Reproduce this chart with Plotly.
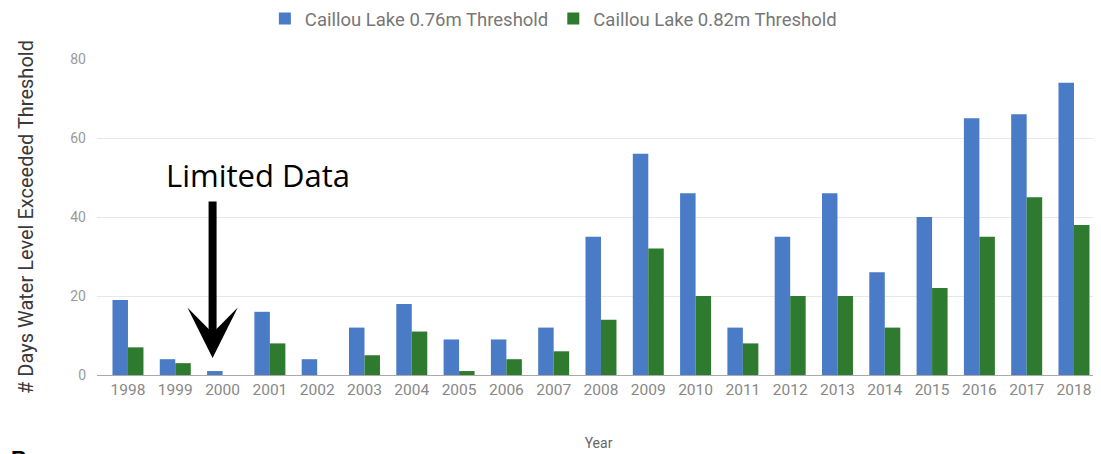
import plotly.graph_objects as go

years = [str(y) for y in range(1998, 2019)]
thr_076 = [19, 4, 1, 16, 4, 12, 18, 9, 9, 12, 35, 56, 46, 12, 35, 46, 26, 40, 65, 66, 74]
thr_082 = [7, 3, 0, 8, 0, 5, 11, 1, 4, 6, 14, 32, 20, 8, 20, 20, 12, 22, 35, 45, 38]
y_ticks = [0, 20, 40, 60, 80]

BLUE = "#4a7bc6"
GREEN = "#2e7a2e"

fig = go.Figure()
fig.add_trace(go.Bar(x=years, y=thr_076, name="Caillou Lake 0.76m Threshold",
                     marker=dict(color=BLUE, line=dict(width=0))))
fig.add_trace(go.Bar(x=years, y=thr_082, name="Caillou Lake 0.82m Threshold",
                     marker=dict(color=GREEN, line=dict(width=0))))

idx2000 = years.index("2000")
fig.add_annotation(x=idx2000, y=4.3, xref="x", yref="y", xshift=-10,
                   showarrow=True, axref="pixel", ayref="pixel", ax=0, ay=-158,
                   arrowhead=3, arrowwidth=8, arrowsize=1.05, arrowcolor="black", text="")
fig.add_annotation(x=idx2000, y=50.6, xref="x", yref="y", xshift=35,
                   showarrow=False, text="Limited Data",
                   font=dict(family="Open Sans", size=31, color="black"))
fig.add_annotation(x=0.0, y=0.0, xref="paper", yref="paper", xanchor="left", yanchor="top",
                   xshift=-88, yshift=-69,
                   showarrow=False, text="<b>B</b>",
                   font=dict(family="Liberation Sans", size=22, color="black"))

fig.update_layout(
    width=1093, height=446,
    margin=dict(l=89, r=1, t=51, b=79, autoexpand=False),
    paper_bgcolor="white", plot_bgcolor="white",
    barmode="group", bargap=0.345, bargroupgap=0,
    font=dict(family="Roboto", size=14, color="#888"),
    legend=dict(orientation="h", x=0.455, xanchor="center", y=1.127, yanchor="middle",
                font=dict(family="Roboto", size=18.5, color="#777"), itemwidth=30),
    xaxis=dict(type="category", range=[-0.655, len(years) - 0.45], showgrid=False,
               showline=True, linecolor="#aaa", linewidth=1,
               tickfont=dict(size=15.5, color="#888"),
               title=dict(text="Year", font=dict(family="Roboto", size=14, color="#666"), standoff=40)),
    yaxis=dict(range=[0, 80], tickvals=y_ticks, showgrid=True, gridcolor="#e8e8e8",
               zeroline=False, ticklabelstandoff=10,
               tickfont=dict(size=14, color="#999"),
               title=dict(text="# Days Water Level Exceeded Threshold",
                          font=dict(family="Roboto", size=20, color="#3a3a3a"), standoff=31)),
)

fig.write_html("out.html")
